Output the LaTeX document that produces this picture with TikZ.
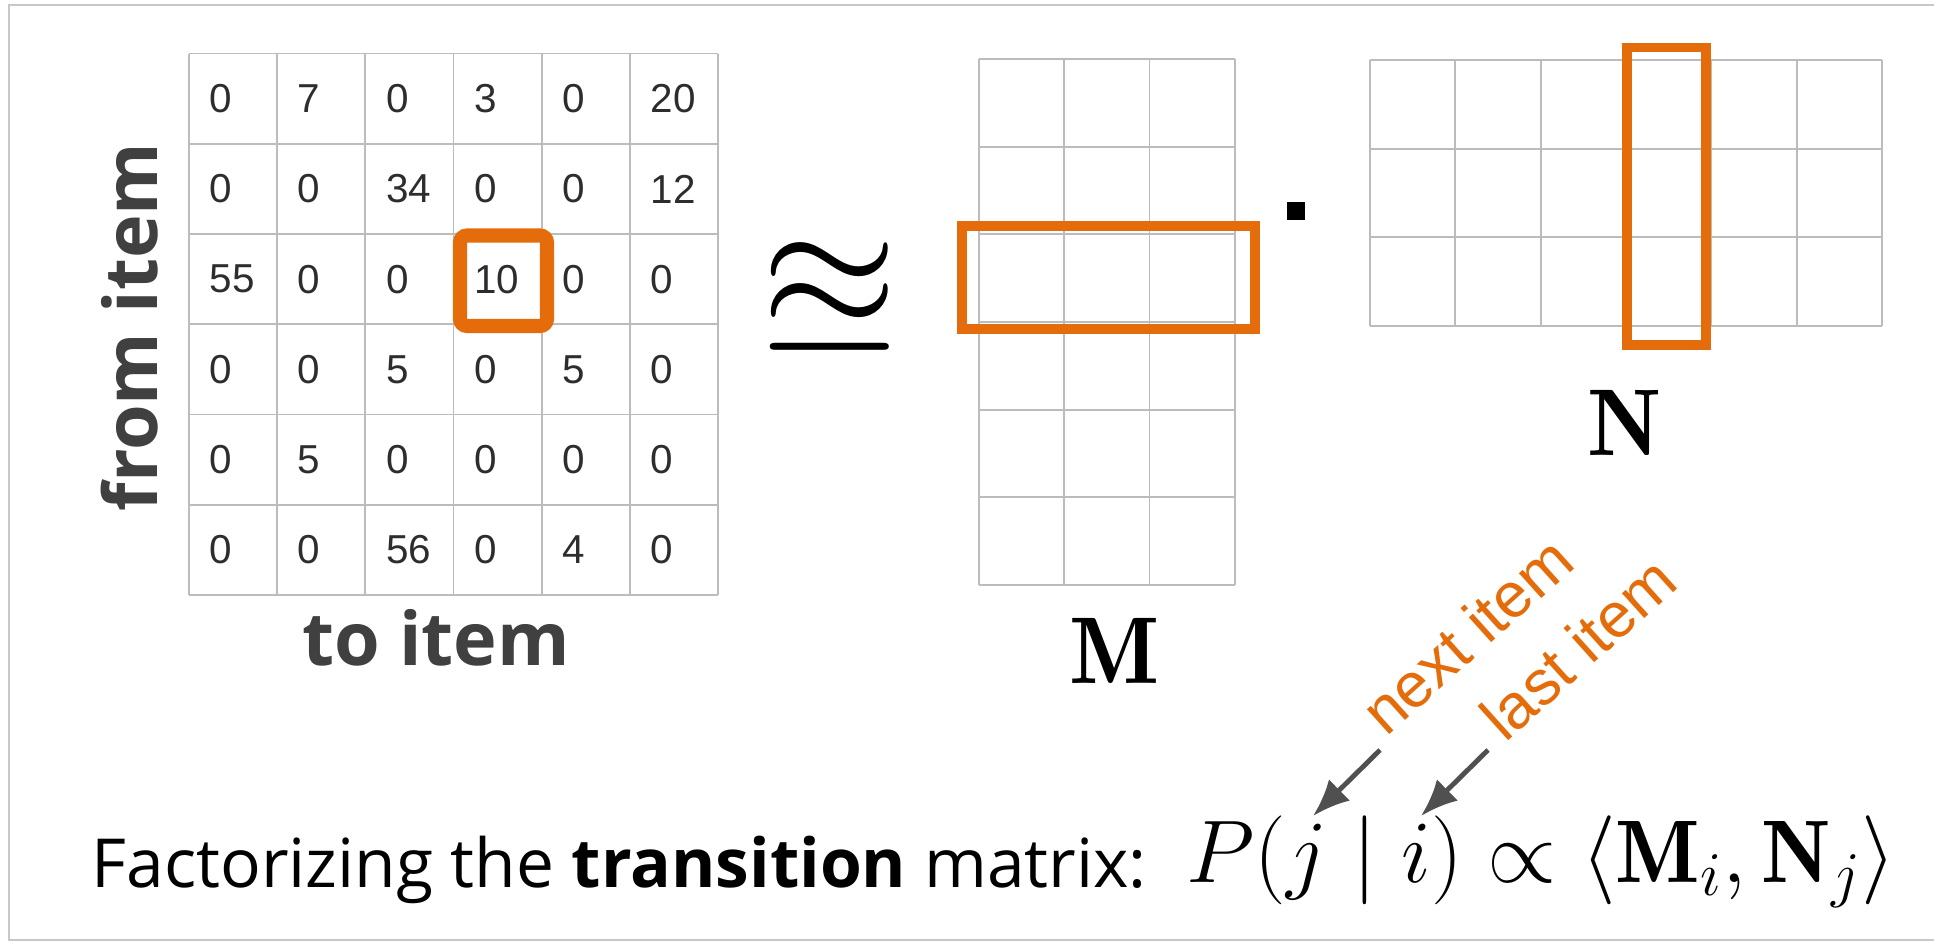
\RequirePackage{fix-cm}
\documentclass[tikz,border=0pt]{standalone}
\usepackage{amsmath, amssymb}
\usepackage{fontspec}
\newfontfamily\opensans{Open Sans}
\newfontfamily\arialfont{Liberation Sans}
\usepackage{xcolor}
\usepackage{tikz}
\usetikzlibrary{arrows.meta}

\definecolor{orng}{RGB}{228,108,10}
\definecolor{gridgray}{RGB}{188,188,188}
\definecolor{framegray}{RGB}{200,200,200}
\definecolor{txtgray}{RGB}{64,64,64}
\definecolor{numgray}{RGB}{45,45,45}
\definecolor{arrgray}{RGB}{80,80,80}

\tikzset{
    gridline/.style={draw=gridgray, line width=0.5pt},
    cellnum/.style={anchor=west, inner sep=0pt, text=numgray,
        font=\arialfont\fontsize{11.5}{13}\selectfont},
    hilite/.style={draw=orng, line width=2.6pt},
    axislbl/.style={text=txtgray, font=\opensans\bfseries\fontsize{21}{25}\selectfont},
    matlbl/.style={anchor=base, font=\fontsize{27}{32}\selectfont},
    note/.style={text=orng, rotate=42, anchor=base west, inner sep=0pt,
        font=\arialfont\fontsize{18}{21}\selectfont},
    ptr/.style={->, draw=arrgray, line width=1.4pt}
}

\begin{document}
\begin{tikzpicture}[x=1cm, y=-1cm, >={Latex[length=10.5pt, width=8.5pt]}]
    \useasboundingbox (0,0) rectangle (19.34,9.41);
    % Khung ngoài (bên phải bị cắt)
    \draw[framegray, line width=0.6pt] (19.34,0.05) -- (0.09,0.05) -- (0.09,9.40) -- (19.34,9.40);

    % Ma trận chuyển trạng thái 6x6
    \foreach \i in {0,...,6} {
        \draw[gridline] (1.89+\i*0.8817,0.535) -- (1.89+\i*0.8817,5.95);
        \draw[gridline] (1.89,0.535+\i*0.9025) -- (7.18,0.535+\i*0.9025);
    }
    \foreach \row [count=\r] in {{0,7,0,3,0,20},{0,0,34,0,0,12},{55,0,0,10,0,0},
                                 {0,0,5,0,5,0},{0,5,0,0,0,0},{0,0,56,0,4,0}} {
        \foreach \v [count=\c] in \row {
            \node[cellnum] (t-\r-\c) at (1.89+\c*0.8817-0.8817+0.20, 0.535+\r*0.9025-0.45) {\v};
        }
    }
    \draw[hilite, line width=4pt, rounded corners=2pt] (4.60,2.355) rectangle (5.47,3.26);

    \node[axislbl, rotate=90] (from) at (1.30,3.27) {from item};
    \node[axislbl, anchor=base] (to) at (4.36,6.65) {to item};

    % Dấu xấp xỉ
    \node[font=\fontsize{50}{60}\selectfont] (approx) at (8.30,3.01) {$\approxeq$};

    % Ma trận M (6x3)
    \foreach \i in {0,...,3}
        \draw[gridline] (9.79+\i*0.853,0.59) -- (9.79+\i*0.853,5.85);
    \foreach \i in {0,...,6}
        \draw[gridline] (9.79,0.59+\i*0.8767) -- (12.35,0.59+\i*0.8767);
    \draw[hilite] (9.62,2.26) rectangle (12.55,3.29);
    \node[matlbl] (M) at (11.15,6.83) {$\mathbf{M}$};

    % Dấu nhân
    \node[fill=black, minimum size=0.18cm, inner sep=0pt] (dot) at (12.96,2.11) {};

    % Ma trận N (3x6)
    \foreach \i in {0,...,6}
        \draw[gridline] (13.70+\i*0.8533,0.60) -- (13.70+\i*0.8533,3.26);
    \foreach \i in {0,...,3}
        \draw[gridline] (13.70,0.60+\i*0.8867) -- (18.82,0.60+\i*0.8867);
    \draw[hilite] (16.27,0.475) rectangle (17.06,3.45);
    \node[matlbl] (N) at (16.25,4.55) {$\mathbf{N}$};

    % Dòng công thức
    \node[anchor=base west, inner sep=0pt, font=\opensans\fontsize{19.25}{23}\selectfont] (caption)
        at (0.91,8.87) {Factorizing the \textbf{transition} matrix:};
    \node[anchor=base west, inner sep=0pt, font=\fontsize{25.3}{30}\selectfont] (prob)
        at (11.86,8.82) {$P(j \mid i) \propto \langle \mathbf{M}_i, \mathbf{N}_j \rangle$};

    % Chú thích j và i
    \coordinate (jtip) at (13.13,8.16);
    \coordinate (itip) at (14.21,8.16);
    \node[note] (next) at (13.86,7.38) {next item};
    \node[note] (last) at (15.05,7.44) {last item};
    \draw[ptr] ([xshift=-0.06cm, yshift=-0.12cm]next.base west) -- (jtip);
    \draw[ptr] ([xshift=-0.17cm, yshift=-0.06cm]last.base west) -- (itip);
\end{tikzpicture}
\end{document}
